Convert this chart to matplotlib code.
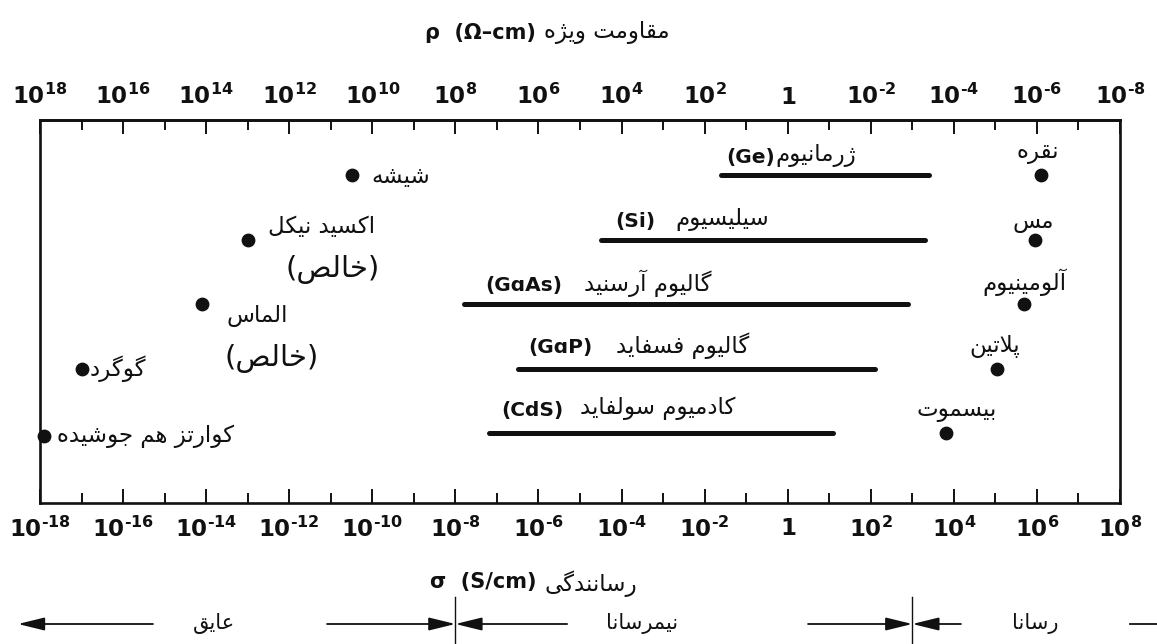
import matplotlib
matplotlib.use("Agg")
import matplotlib.pyplot as plt
from matplotlib import transforms

# conductivity values are given as log10(sigma / (S/cm))
insulators = ["شیشه", "اکسید نیکل", "الماس", "گوگرد", "کوارتز هم جوشیده"]
insulator_logs = [-10.5, -13.0, -14.1, -17.0, -17.9]
insulator_rows = [0, 1, 2, 3, 4.05]

metals = ["نقره", "مس", "آلومینیوم", "پلاتین", "بیسموت"]
metal_logs = [6.1, 5.95, 5.7, 5.05, 3.8]
metal_rows = [0, 1, 2, 3, 4]

semis = ["ژرمانیوم", "سیلیسیوم", "گالیوم آرسنید", "گالیوم فسفاید", "کادمیوم سولفاید"]
semi_formulas = ["(Ge)", "(Si)", "(GɑAs)", "(GɑP)", "(CdS)"]
semi_low = [-1.6, -4.5, -7.8, -6.5, -7.2]
semi_high = [3.4, 3.3, 2.9, 2.1, 1.1]
semi_rows = [0, 1, 2, 3, 4]

sigma_ticks = list(range(-18, 9, 2))
rho_ticks = [-t for t in sigma_ticks]

insulator_max = -8   # sigma below this: insulator
conductor_min = 3    # sigma above this: conductor

INK = "#111111"
FA = "DejaVu Sans"
FA_SIZE = 16.5

# --- minimal Arabic-script shaping (matplotlib has no complex text layout) ---
FORMS = {
    "ا": ("\uFE8D", "\uFE8E", None, None),
    "آ": ("\uFE81", "\uFE82", None, None),
    "ب": ("\uFE8F", "\uFE90", "\uFE91", "\uFE92"),
    "پ": ("\uFB56", "\uFB57", "\uFB58", "\uFB59"),
    "ت": ("\uFE95", "\uFE96", "\uFE97", "\uFE98"),
    "ج": ("\uFE9D", "\uFE9E", "\uFE9F", "\uFEA0"),
    "خ": ("\uFEA5", "\uFEA6", "\uFEA7", "\uFEA8"),
    "د": ("\uFEA9", "\uFEAA", None, None),
    "ر": ("\uFEAD", "\uFEAE", None, None),
    "ز": ("\uFEAF", "\uFEB0", None, None),
    "ژ": ("\uFB8A", "\uFB8B", None, None),
    "س": ("\uFEB1", "\uFEB2", "\uFEB3", "\uFEB4"),
    "ش": ("\uFEB5", "\uFEB6", "\uFEB7", "\uFEB8"),
    "ص": ("\uFEB9", "\uFEBA", "\uFEBB", "\uFEBC"),
    "ع": ("\uFEC9", "\uFECA", "\uFECB", "\uFECC"),
    "ف": ("\uFED1", "\uFED2", "\uFED3", "\uFED4"),
    "ق": ("\uFED5", "\uFED6", "\uFED7", "\uFED8"),
    "ک": ("\uFB8E", "\uFB8F", "\uFB90", "\uFB91"),
    "گ": ("\uFB92", "\uFB93", "\uFB94", "\uFB95"),
    "ل": ("\uFEDD", "\uFEDE", "\uFEDF", "\uFEE0"),
    "م": ("\uFEE1", "\uFEE2", "\uFEE3", "\uFEE4"),
    "ن": ("\uFEE5", "\uFEE6", "\uFEE7", "\uFEE8"),
    "ه": ("\uFEE9", "\uFEEA", "\uFEEB", "\uFEEC"),
    "و": ("\uFEED", "\uFEEE", None, None),
    "ی": ("\uFBFC", "\uFBFD", "\uFBFE", "\uFBFF"),
}
LAM_ALEF = {"ا": ("\uFEFB", "\uFEFC"), "آ": ("\uFEF5", "\uFEF6")}


def joins_next(c):
    return c in FORMS and FORMS[c][2] is not None


def fa(text):
    out = []
    i, n = 0, len(text)
    while i < n:
        c = text[i]
        prev = text[i - 1] if i > 0 else ""
        link_prev = joins_next(prev) and c in FORMS
        if c == "ل" and i + 1 < n and text[i + 1] in LAM_ALEF:
            iso, fin = LAM_ALEF[text[i + 1]]
            out.append(fin if link_prev else iso)
            i += 2
            continue
        if c not in FORMS:
            out.append(c)
            i += 1
            continue
        nxt = text[i + 1] if i + 1 < n else ""
        link_next = joins_next(c) and nxt in FORMS
        iso, fin, ini, med = FORMS[c]
        if link_prev and link_next:
            out.append(med)
        elif link_prev:
            out.append(fin)
        elif link_next:
            out.append(ini)
        else:
            out.append(iso)
        i += 1
    return "".join(reversed(out))


def exp_label(e):
    # short hyphen in the exponent, like the printed scale
    if e == 0:
        return r"$1$"
    return r"$10^{%s}$" % str(e).replace("-", "\u2010")


plt.rcParams["mathtext.default"] = "bf"
plt.rcParams["font.family"] = ["DejaVu Sans"]

W, H = 1157, 644
fig = plt.figure(figsize=(W / 100, H / 100), dpi=100)
ax = fig.add_axes([40 / W, 1 - 503 / H, 1080 / W, 383 / H])
ax.set_xlim(-18, 8)
ax.set_ylim(5.085, -0.853)

for s in ax.spines.values():
    s.set_linewidth(1.9)
    s.set_color(INK)

ax.set_yticks([])
ax.set_xticks(sigma_ticks, labels=[exp_label(t) for t in sigma_ticks])
ax.set_xticks(range(-17, 8, 2), minor=True)
ax.tick_params(axis="x", which="both", direction="in", width=1.4,
               color=INK, labelcolor=INK, labelsize=16.5, pad=10)
ax.tick_params(axis="x", which="major", length=10)
ax.tick_params(axis="x", which="minor", length=7)

top = ax.secondary_xaxis("top", functions=(lambda x: -x, lambda x: -x))
top.set_xticks(rho_ticks, labels=[exp_label(t) for t in rho_ticks])
top.set_xticks(range(-7, 18, 2), minor=True)
top.tick_params(axis="x", which="both", direction="in", width=1.4,
                color=INK, labelcolor=INK, labelsize=16.5, pad=8)
top.tick_params(axis="x", which="major", length=10)
top.tick_params(axis="x", which="minor", length=7)
top.spines["top"].set_linewidth(1.9)

# semiconductor ranges, formula on the left of the Persian name
semi_dx = [5, 14, 22, 11, 13]
semi_dy = [18, 18, 19, 21, 23]
semi_gap = [0, 20, 21, 23, 16]
for i, (lo, hi, r) in enumerate(zip(semi_low, semi_high, semi_rows)):
    ax.plot([lo, hi], [r, r], color=INK, lw=3.6, solid_capstyle="round")
    t = ax.annotate(semi_formulas[i], xy=(lo, r), xytext=(semi_dx[i], semi_dy[i]),
                    textcoords="offset pixels", ha="left", va="center",
                    fontsize=14.5, fontweight="bold", color=INK)
    ax.annotate(fa(semis[i]), xy=(1, 0.5), xycoords=t, xytext=(semi_gap[i], 2),
                textcoords="offset pixels", ha="left", va="center",
                fontsize=FA_SIZE, family=FA, color=INK)

dot = dict(s=80, color=INK, zorder=4, clip_on=False)
ax.scatter(insulator_logs, insulator_rows, **dot)
ax.scatter(metal_logs, metal_rows, **dot)

# insulator labels
ins_offsets = [(20, -1), (20, 13), (25, -11), (8, 0), (13, 0)]
for x, r, name, off in zip(insulator_logs, insulator_rows, insulators, ins_offsets):
    ax.annotate(fa(name), xy=(x, r), xytext=off, textcoords="offset pixels",
                ha="left", va="center", fontsize=FA_SIZE, family=FA, color=INK)
pure = "(" + fa("خالص") + ")"
for x, r, off in [(insulator_logs[1], insulator_rows[1], (85, -30)),
                  (insulator_logs[2], insulator_rows[2], (70, -54))]:
    ax.annotate(pure, xy=(x, r), xytext=off, textcoords="offset pixels",
                ha="center", va="center", fontsize=21, family=FA, color=INK)

# metal labels sit above their dots
met_offsets = [(-3, 23), (-2, 18), (0, 22), (-3, 22), (11, 23)]
for x, r, name, off in zip(metal_logs, metal_rows, metals, met_offsets):
    ax.annotate(fa(name), xy=(x, r), xytext=off, textcoords="offset pixels",
                ha="center", va="center", fontsize=FA_SIZE, family=FA, color=INK)

# axis titles
rho_t = fig.text(425 / W, 1 - 33 / H, "ρ  (Ω–cm)", ha="left", va="center",
                 fontsize=15, fontweight="bold", color=INK)
ax.annotate(fa("مقاومت ویژه"), xy=(1, 0.5), xycoords=rho_t, xytext=(8, 0),
            textcoords="offset pixels", ha="left", va="center",
            fontsize=FA_SIZE, family=FA, color=INK)
sig_t = fig.text(430 / W, 1 - 582 / H, "σ  (S/cm)", ha="left", va="center",
                 fontsize=15, fontweight="bold", color=INK)
ax.annotate(fa("رسانندگی"), xy=(1, 0.5), xycoords=sig_t, xytext=(8, -2),
            textcoords="offset pixels", ha="left", va="center",
            fontsize=FA_SIZE, family=FA, color=INK)

# insulator / semiconductor / conductor bands under the axis
bt = transforms.blended_transform_factory(ax.transData, fig.transFigure)
ay = 1 - 624 / H
head = dict(arrowstyle="-|>,head_length=0.9,head_width=0.22", lw=1.3,
            color=INK, shrinkA=0, shrinkB=0, mutation_scale=18)


def arrow(x0, x1):
    ax.annotate("", xy=(x1, ay), xycoords=bt, xytext=(x0, ay), textcoords=bt,
                arrowprops=head, annotation_clip=False)


arrow(-15.28, -18.53)
arrow(-11.09, insulator_max)
arrow(-5.31, insulator_max)
arrow(0.49, conductor_min)
arrow(4.17, conductor_min)
ax.plot([8.24, 9.2], [ay, ay], transform=bt, clip_on=False, color=INK, lw=1.3)
for xb in (insulator_max, conductor_min):
    ax.plot([xb, xb], [1 - 597 / H, -0.01], transform=bt, clip_on=False,
            color=INK, lw=1.0)

band_labels = [("عایق", -13.8), ("نیمرسانا", -3.5), ("رسانا", 5.95)]
for name, xc in band_labels:
    ax.text(xc, ay, fa(name), transform=bt, ha="center", va="center",
            fontsize=15, family=FA, color=INK)

fig.savefig("out.png", dpi=100)
